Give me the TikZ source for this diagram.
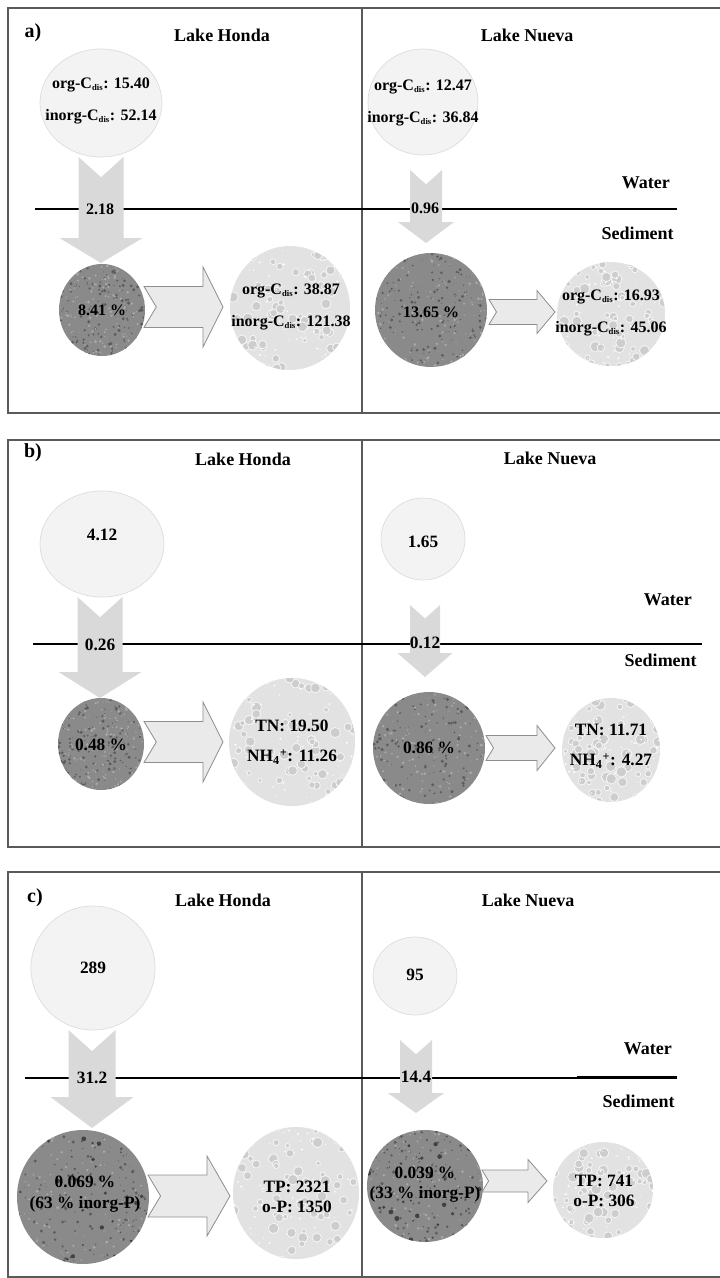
\documentclass[tikz,border=0pt]{standalone}
\usepackage{fontspec}
\setmainfont{Liberation Serif}
\usetikzlibrary{shapes.geometric,calc}
\definecolor{framec}{HTML}{5A5A5A}
\definecolor{topfill}{HTML}{F3F3F3}
\definecolor{topdraw}{HTML}{DCDCDC}
\definecolor{dnfill}{HTML}{D9D9D9}
\definecolor{rtfill}{HTML}{EAEAEA}
\definecolor{rtdraw}{HTML}{8E8E8E}
\definecolor{darkbase}{HTML}{8A8A8A}
\definecolor{darkspot}{HTML}{5C5C5C}
\definecolor{darklight}{HTML}{ABABAB}
\definecolor{porebase}{HTML}{E2E2E2}
\definecolor{porefill}{HTML}{CDCDCD}
\definecolor{poreedge}{HTML}{F6F6F6}

\newcommand\dis{\textsubscript{\fontsize{6.5}{7}\selectfont dis}}
\newcommand\speckle[3]{%
  \foreach \k in {1,...,#1}{%
    \fill[#2] let \p1=(path picture bounding box.south west), \p2=(path picture bounding box.north east) in
      ({\x1+rnd*(\x2-\x1)},{\y1+rnd*(\y2-\y1)}) circle[radius={0.3pt+rnd*#3}];}}
\newcommand\pores[1]{%
  \foreach \k in {1,...,#1}{%
    \filldraw[fill=porefill, draw=poreedge, line width=0.6pt] let \p1=(path picture bounding box.south west), \p2=(path picture bounding box.north east) in
      ({\x1+rnd*(\x2-\x1)},{\y1+rnd*(\y2-\y1)}) circle[radius={1.5pt+rnd*2.5pt}];}}

\newcommand\dnarr[5]{%
  \fill[dnarrow] let \p1=(#1), \p2=(#2) in
   ({\x1-#3*0.75pt},\y1) -- (\x1,{\y1-0.9*#3*0.75pt}) -- ({\x1+#3*0.75pt},\y1)
   -- ({\x1+#3*0.75pt},{\y2+#5*0.75pt}) -- ({\x1+#4*0.75pt},{\y2+#5*0.75pt})
   -- (\x1,\y2) -- ({\x1-#4*0.75pt},{\y2+#5*0.75pt}) -- ({\x1-#3*0.75pt},{\y2+#5*0.75pt}) -- cycle;}
\newcommand\rtarr[5]{%
  \filldraw[rtarrow] let \p1=(#1), \p2=(#2) in
   (\x1,{\y1+#3*0.75pt}) -- ({\x2-#5*0.75pt},{\y1+#3*0.75pt}) -- ({\x2-#5*0.75pt},{\y1+#4*0.75pt})
   -- (\x2,\y1) -- ({\x2-#5*0.75pt},{\y1-#4*0.75pt}) -- ({\x2-#5*0.75pt},{\y1-#3*0.75pt})
   -- (\x1,{\y1-#3*0.75pt}) -- ({\x1+0.6*#3*0.75pt},\y1) -- cycle;}

\tikzset{
  every node/.style={font=\bfseries\fontsize{12}{14}\selectfont, inner sep=0pt},
  valb/.style={font=\bfseries\fontsize{13}{15}\selectfont},
  hdr/.style={font=\bfseries\fontsize{13.5}{16}\selectfont},
  tag/.style={font=\bfseries\fontsize{15}{17}\selectfont},
  sz/.style 2 args={minimum width=#1*0.75pt, minimum height=#2*0.75pt},
  topcirc/.style={ellipse, fill=topfill, draw=topdraw, line width=0.5pt},
  darkcirc/.style={ellipse, fill=darkbase, path picture={\speckle{170}{darkspot}{1.0pt}\speckle{140}{darklight}{0.8pt}}},
  darkcircp/.style={ellipse, fill=darkbase, path picture={\speckle{150}{darkspot}{1.0pt}\speckle{120}{darklight}{0.8pt}\speckle{40}{darkspot!70!black}{1.6pt}}},
  porecirc/.style={ellipse, fill=porebase, path picture={\pores{70}\speckle{60}{white}{0.6pt}}},
  panelframe/.style={draw=framec, line width=1.2pt},
  waterline/.style={line width=1.1pt, draw=black},
  dnarrow/.style={fill=dnfill},
  rtarrow/.style={fill=rtfill, draw=rtdraw, line width=0.6pt, line join=miter},
}

\begin{document}
\begin{tikzpicture}[x=0.75pt,y=-0.75pt]
\pgfmathsetseed{4242}
\useasboundingbox (0,0) rectangle (720,1278);
\fill[white] (0,0) rectangle (720,1278);

% ---------- frames ----------
\draw[panelframe] (720,8) -- (8,8) -- (8,413) -- (720,413);
\draw[panelframe] (362,8) -- (362,413);
\draw[panelframe] (720,440) -- (8,440) -- (8,847) -- (720,847);
\draw[panelframe] (362,440) -- (362,847);
\draw[panelframe] (720,872) -- (8,872) -- (8,1277) -- (720,1277);
\draw[panelframe] (362,872) -- (362,1277);

% ---------- water lines ----------
\draw[waterline] (35,209) -- (677,209);
\draw[waterline] (33,644) -- (702,644);
\draw[waterline] (25,1078) -- (677,1078);
\draw[line width=2.2pt] (577,1077) -- (677,1077);

% ---------- headings ----------
\node[tag] (ta) at (33,33) {a)};
\node[hdr] (ha1) at (222,35) {Lake Honda};
\node[hdr] (ha2) at (527,35) {Lake Nueva};
\node[hdr,anchor=east] (wa) at (670,183) {Water};
\node[hdr,anchor=east] (sa) at (674,233) {Sediment};

\node[tag] (tb) at (33,453) {b)};
\node[hdr] (hb1) at (243,459) {Lake Honda};
\node[hdr] (hb2) at (550,458) {Lake Nueva};
\node[hdr,anchor=east] (wb) at (692,600) {Water};
\node[hdr,anchor=east] (sb) at (697,660) {Sediment};

\node[tag] (tc) at (35,898) {c)};
\node[hdr] (hc1) at (223,900) {Lake Honda};
\node[hdr] (hc2) at (528,900) {Lake Nueva};
\node[hdr,anchor=east] (wc) at (672,1049) {Water};
\node[hdr,anchor=east] (sc) at (675,1101) {Sediment};

% ---------- circles ----------
\node[topcirc, sz={122}{108}] (W1) at (101,103) {};
\node[darkcirc, sz={86}{92}] (D1) at (102,310) {};
\node[porecirc, sz={120}{124}] (L1) at (290,308) {};
\node[topcirc, sz={110}{106}] (W2) at (423,102) {};
\node[darkcirc, sz={112}{114}] (D2) at (431,310) {};
\node[porecirc, sz={108}{104}] (L2) at (611,314) {};

\node[topcirc, sz={124}{106}] (W3) at (102,544) {};
\node[darkcirc, sz={86}{92}] (D3) at (101,744) {};
\node[porecirc, sz={126}{128}] (L3) at (292,742) {};
\node[topcirc, sz={84}{82}] (W4) at (423,539) {};
\node[darkcirc, sz={112}{112}] (D4) at (429,748) {};
\node[porecirc, sz={98}{104}] (L4) at (611,750) {};

\node[topcirc, sz={124}{124}] (W5) at (93,968) {};
\node[darkcircp, sz={132}{134}] (D5) at (83,1197) {};
\node[porecirc, sz={126}{132}] (L5) at (296,1193) {};
\node[topcirc, sz={84}{78}] (W6) at (415,976) {};
\node[darkcircp, sz={116}{112}] (D6) at (425,1186) {};
\node[porecirc, sz={100}{96}] (L6) at (603,1190) {};

% ---------- arrow end points ----------
\coordinate (a1s) at (101,157);  \coordinate (a1e) at (101,263);
\coordinate (a2s) at (426,170);  \coordinate (a2e) at (426,243);
\coordinate (b1s) at (100,597);  \coordinate (b1e) at (100,698);
\coordinate (b2s) at (425,605);  \coordinate (b2e) at (425,677);
\coordinate (c1s) at (92,1030);  \coordinate (c1e) at (92,1128);
\coordinate (c2s) at (416,1040); \coordinate (c2e) at (416,1113);

\coordinate (ra1s) at (144,307);  \coordinate (ra1e) at (223,307);
\coordinate (ra2s) at (489,312);  \coordinate (ra2e) at (555,312);
\coordinate (rb1s) at (144,742);  \coordinate (rb1e) at (223,742);
\coordinate (rb2s) at (486,748);  \coordinate (rb2e) at (555,748);
\coordinate (rc1s) at (148,1196); \coordinate (rc1e) at (230,1196);
\coordinate (rc2s) at (482,1181); \coordinate (rc2e) at (547,1181);

% ---------- down arrows ----------
\dnarr{a1s}{a1e}{22.5}{41.5}{25}
\dnarr{a2s}{a2e}{16}{28}{21}
\dnarr{b1s}{b1e}{22.5}{41.5}{26}
\dnarr{b2s}{b2e}{15}{27.5}{24}
\dnarr{c1s}{c1e}{23.5}{41.5}{31}
\dnarr{c2s}{c2e}{16}{28}{20}

% ---------- right arrows ----------
\rtarr{ra1s}{ra1e}{20.5}{40}{20}
\rtarr{ra2s}{ra2e}{12.5}{21.5}{18}
\rtarr{rb1s}{rb1e}{20.5}{40}{20}
\rtarr{rb2s}{rb2e}{12.5}{22.5}{18}
\rtarr{rc1s}{rc1e}{21}{40}{23}
\rtarr{rc2s}{rc2e}{11}{21.5}{19}

% ---------- flux labels ----------
\node (fa1) at (100,209) {2.18};
\node (fa2) at (425,208) {0.96};
\node[valb] (fb1) at (100,645) {0.26};
\node[valb] (fb2) at (425,643) {0.12};
\node[valb] (fc1) at (92,1078) {31.2};
\node[valb] (fc2) at (416,1077) {14.4};

% ---------- values ----------
\node[align=center] (va1) at (101,101) {org-C\dis: 15.40\\[10pt]inorg-C\dis: 52.14};
\node (vd1) at (102,310) {8.41 \%};
\node[align=center] (vl1) at (291,307) {org-C\dis: 38.87\\[10pt]inorg-C\dis: 121.38};
\node[align=center] (va2) at (423,103) {org-C\dis: 12.47\\[10pt]inorg-C\dis: 36.84};
\node (vd2) at (431,312) {13.65 \%};
\node[align=center] (vl2) at (611,313) {org-C\dis: 16.93\\[10pt]inorg-C\dis: 45.06};

\node[valb] (vb1) at (102,535) {4.12};
\node[valb] (vdb1) at (101,745) {0.48 \%};
\node[valb,align=center] (vlb1) at (292,742) {TN: 19.50\\[8pt]NH\textsubscript{4}\textsuperscript{+}: 11.26};
\node[valb] (vb2) at (423,542) {1.65};
\node[valb] (vdb2) at (429,748) {0.86 \%};
\node[valb,align=center] (vlb2) at (611,746) {TN: 11.71\\[8pt]NH\textsubscript{4}\textsuperscript{+}: 4.27};

\node[valb] (vc1) at (93,968) {289};
\node[valb,align=center] (vdc1) at (85,1194) {0.069 \%\\[1pt](63 \% inorg-P)};
\node[valb,align=center] (vlc1) at (297,1197) {TP: 2321\\o-P: 1350};
\node[valb] (vc2) at (415,975) {95};
\node[valb,align=center] (vdc2) at (425,1185) {0.039 \%\\(33 \% inorg-P)};
\node[valb,align=center] (vlc2) at (604,1191) {TP: 741\\o-P: 306};
\end{tikzpicture}
\end{document}
